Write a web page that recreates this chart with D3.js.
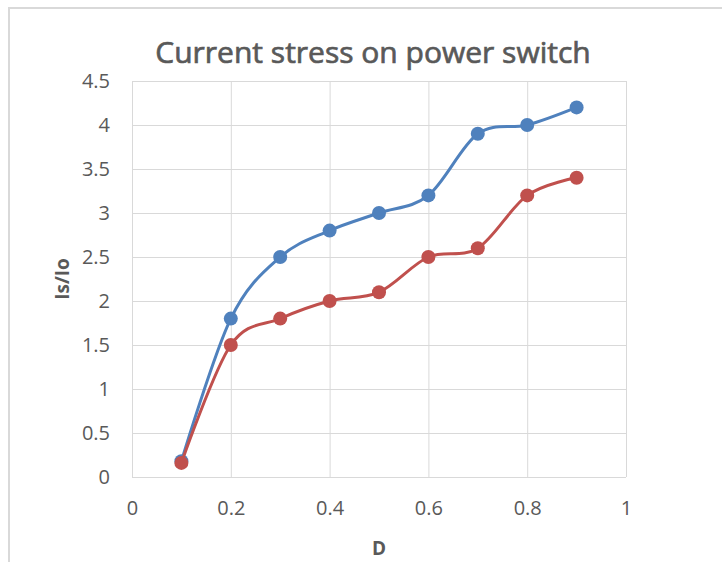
<!DOCTYPE html>
<html>
<head>
  <meta charset="utf-8">
  <title>Current stress on power switch</title>
  <script src="https://cdnjs.cloudflare.com/ajax/libs/d3/7.8.5/d3.min.js"></script>
  <style>
    body { margin: 0; background: #fff; }
    text { font-family: "Open Sans", sans-serif; fill: #595959; }
  </style>
</head>
<body>
  <div id="viz"></div>
  <script>
    // duty ratio D and the two Is/Io series
    var dutyValues = [0.1, 0.2, 0.3, 0.4, 0.5, 0.6, 0.7, 0.8, 0.9];
    var blueSeries = [0.18, 1.8, 2.5, 2.8, 3.0, 3.2, 3.9, 4.0, 4.2];
    var redSeries = [0.16, 1.5, 1.8, 2.0, 2.1, 2.5, 2.6, 3.2, 3.4];
    var xTicks = [0, 0.2, 0.4, 0.6, 0.8, 1];
    var yTicks = [0, 0.5, 1, 1.5, 2, 2.5, 3, 3.5, 4, 4.5];

    var width = 722,
        height = 562,
        plotLeft = 132, plotRight = 626,
        plotTop = 81, plotBottom = 477;

    var svg = d3.select("#viz")
        .append("svg")
        .attr("width", width)
        .attr("height", height);

    // outer chart frame (open at right and bottom, as in the picture)
    svg.append("rect")
        .attr("x", 9)
        .attr("y", 8)
        .attr("width", 800)
        .attr("height", 700)
        .attr("fill", "none")
        .attr("stroke", "#d9d9d9")
        .attr("stroke-width", 2);

    var x = d3.scaleLinear().domain([0, 1]).range([plotLeft, plotRight]);
    var y = d3.scaleLinear().domain([0, 4.5]).range([plotBottom, plotTop]);

    // grid lines
    var xGrid = d3.axisBottom(x).tickValues(xTicks).tickSize(-(plotBottom - plotTop)).tickFormat("");
    var yGrid = d3.axisLeft(y).tickValues(yTicks).tickSize(-(plotRight - plotLeft)).tickFormat("");

    svg.append("g")
        .attr("transform", "translate(0," + plotBottom + ")")
        .call(xGrid)
        .call(function (g) { g.select(".domain").remove(); })
        .selectAll("line").attr("stroke", "#d9d9d9");

    svg.append("g")
        .attr("transform", "translate(" + plotLeft + ",0)")
        .call(yGrid)
        .call(function (g) { g.select(".domain").remove(); })
        .selectAll("line").attr("stroke", "#d9d9d9");

    // tick labels
    var xAxis = d3.axisBottom(x).tickValues(xTicks).tickSize(0).tickPadding(24)
        .tickFormat(function (d) { return d === 0 || d === 1 ? d : d.toFixed(1); });
    var gx = svg.append("g")
        .attr("transform", "translate(0," + plotBottom + ")")
        .call(xAxis);
    gx.select(".domain").remove();
    gx.selectAll("text")
        .style("font-size", "20px")
        .attr("fill", "#595959");

    var yAxis = d3.axisLeft(y).tickValues(yTicks).tickSize(0).tickPadding(22)
        .tickFormat(function (d) { return d; });
    var gy = svg.append("g")
        .attr("transform", "translate(" + plotLeft + ",0)")
        .call(yAxis);
    gy.select(".domain").remove();
    gy.selectAll("text")
        .style("font-size", "20px")
        .attr("fill", "#595959");

    // lines
    var line = d3.line()
        .x(function (d) { return x(d[0]); })
        .y(function (d) { return y(d[1]); })
        .curve(d3.curveCatmullRom.alpha(0));

    var series = [
      { values: blueSeries, color: "#4f81bd" },
      { values: redSeries, color: "#c0504d" }
    ];

    series.forEach(function (s) {
      var pts = dutyValues.map(function (d, i) { return [d, s.values[i]]; });
      svg.append("path")
          .datum(pts)
          .attr("d", line)
          .attr("fill", "none")
          .attr("stroke", s.color)
          .attr("stroke-width", 3);
      svg.selectAll(null)
          .data(pts)
          .enter()
          .append("circle")
          .attr("cx", function (d) { return x(d[0]); })
          .attr("cy", function (d) { return y(d[1]); })
          .attr("r", 7)
          .attr("fill", s.color);
    });

    // title
    svg.append("text")
        .attr("x", 373)
        .attr("y", 63)
        .attr("text-anchor", "middle")
        .style("font-size", "30px")
        .attr("stroke", "#595959")
        .attr("stroke-width", 0.7)
        .text("Current stress on power switch");

    // axis titles
    svg.append("text")
        .attr("x", (plotLeft + plotRight) / 2)
        .attr("y", 555)
        .attr("text-anchor", "middle")
        .style("font-size", "19px")
        .style("font-weight", "bold")
        .text("D");

    svg.append("text")
        .attr("transform", "translate(69," + (plotTop + plotBottom) / 2 + ") rotate(-90)")
        .attr("text-anchor", "middle")
        .style("font-size", "19px")
        .style("font-weight", "bold")
        .text("Is/Io");
  </script>
</body>
</html>
